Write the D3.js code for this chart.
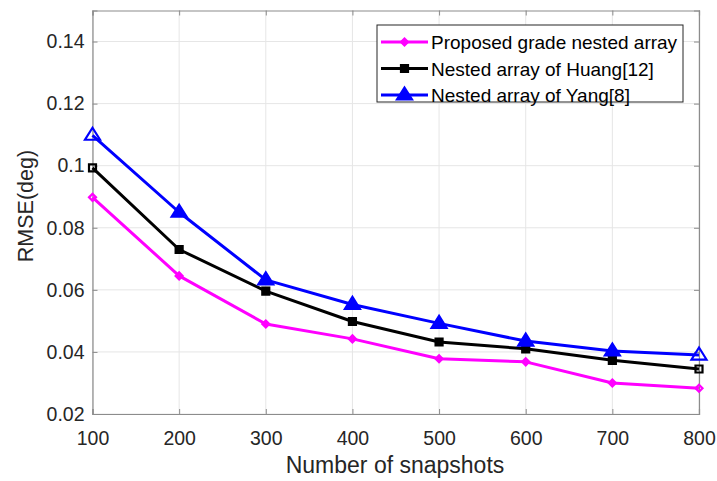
<!DOCTYPE html>
<html><head><meta charset="utf-8">
<script src="https://cdn.jsdelivr.net/npm/d3@7"></script>
<style>body{margin:0;background:#fff;} text{font-family:"Liberation Sans",Arial,sans-serif;}</style>
</head><body>
<svg id="c" width="717" height="481"></svg>
<script>
const snapshots = [100,200,300,400,500,600,700,800];
const proposed = [0.0898,0.0645,0.0490,0.0442,0.0378,0.0368,0.0300,0.0283];
const huang    = [0.0993,0.0730,0.0596,0.0498,0.0432,0.0410,0.0373,0.0345];
const yang     = [0.1098,0.0850,0.0632,0.0553,0.0492,0.0435,0.0403,0.0390];
const xTicks = [100,200,300,400,500,600,700,800];
const yTicks = [0.02,0.04,0.06,0.08,0.1,0.12,0.14];
const seriesNames = ["Proposed grade nested array","Nested array of Huang[12]","Nested array of Yang[8]"];
const seriesColors = ["#ff00ff","#000000","#0000ff"];
const seriesMarkers = ["diamond","square","triangle"];

const svg = d3.select("#c");
const L=92.5,R=699,T=10.5,B=414;
const x = d3.scaleLinear().domain([100,800]).range([L,R]);
const y = d3.scaleLinear().domain([0.02,0.15]).range([B,T]);

// grid
const g = svg.append("g");
g.selectAll(".gx").data(xTicks).enter().append("line")
 .attr("x1",d=>x(d)).attr("x2",d=>x(d)).attr("y1",T).attr("y2",B)
 .attr("stroke","#e6e6e6").attr("stroke-width",1);
g.selectAll(".gy").data(yTicks).enter().append("line")
 .attr("x1",L).attr("x2",R).attr("y1",d=>y(d)).attr("y2",d=>y(d))
 .attr("stroke","#e6e6e6").attr("stroke-width",1);

// axes
const fmt = d=>d3.format("~g")(d);
const ax = svg.append("g").attr("transform",`translate(0,${B})`)
 .call(d3.axisBottom(x).tickValues(xTicks).tickSize(-5).tickPadding(17).tickFormat(d=>d));
const ay = svg.append("g").attr("transform",`translate(${L},0)`)
 .call(d3.axisLeft(y).tickValues(yTicks).tickSize(-5).tickPadding(8).tickFormat(fmt));
const axTop = svg.append("g").attr("transform",`translate(0,${T})`)
 .call(d3.axisTop(x).tickValues(xTicks).tickSize(-5).tickFormat(""));
const ayR = svg.append("g").attr("transform",`translate(${R},0)`)
 .call(d3.axisRight(y).tickValues(yTicks).tickSize(-5).tickFormat(""));
[ax,ay,axTop,ayR].forEach(a=>{
  a.select(".domain").attr("stroke","#8c8c8c").attr("stroke-width",1.2);
  a.selectAll(".tick line").attr("stroke","#8c8c8c");
  a.selectAll("text").attr("fill","#262626").style("font-size","19.5px").style("font-family","Liberation Sans, Arial, sans-serif");
});

// lines
const data = [proposed,huang,yang];
const line = d3.line().x((d,i)=>x(snapshots[i])).y(d=>y(d));
function marker(sel,type,cx,cy,color,filled){
  let p;
  if(type==="square"){ const s=3.5; p=`M${cx-s},${cy-s}h${2*s}v${2*s}h${-2*s}Z`; }
  else if(type==="triangle"){ const s=7.5; p=`M${cx},${cy-s}L${cx+s},${cy+s*0.6}L${cx-s},${cy+s*0.6}Z`; }
  else { const s=3.5; p=`M${cx},${cy-s}L${cx+s},${cy}L${cx},${cy+s}L${cx-s},${cy}Z`; }
  sel.append("path").attr("d",p).attr("fill",filled?color:"none").attr("stroke",color).attr("stroke-width",2.2);
}
data.forEach((vals,k)=>{
  svg.append("path").datum(vals).attr("d",line).attr("fill","none")
   .attr("stroke",seriesColors[k]).attr("stroke-width",3).attr("stroke-linejoin","round");
  const mg = svg.append("g");
  vals.forEach((v,i)=>marker(mg,seriesMarkers[k],x(snapshots[i]),y(v),seriesColors[k],
    i>0 && i<vals.length-1));
});

// legend
const lg = svg.append("g");
lg.append("rect").attr("x",377).attr("y",25).attr("width",306).attr("height",77)
 .attr("fill","#fff").attr("stroke","#262626").attr("stroke-width",1);
seriesNames.forEach((n,k)=>{
  const cy = 42 + k*26.5;
  lg.append("line").attr("x1",381).attr("x2",428).attr("y1",cy).attr("y2",cy)
   .attr("stroke",seriesColors[k]).attr("stroke-width",3);
  marker(lg,seriesMarkers[k],404.5,cy,seriesColors[k],true);
  lg.append("text").attr("x",431).attr("y",cy+7).text(n).attr("fill","#000")
   .style("font-size","19px");
});

// labels
svg.append("text").attr("x",395).attr("y",473).attr("text-anchor","middle")
 .style("font-size","23px").attr("fill","#262626").text("Number of snapshots");
svg.append("text").attr("transform",`translate(33,206) rotate(-90)`).attr("text-anchor","middle")
 .style("font-size","21.5px").attr("fill","#262626").text("RMSE(deg)");
</script>
</body></html>
